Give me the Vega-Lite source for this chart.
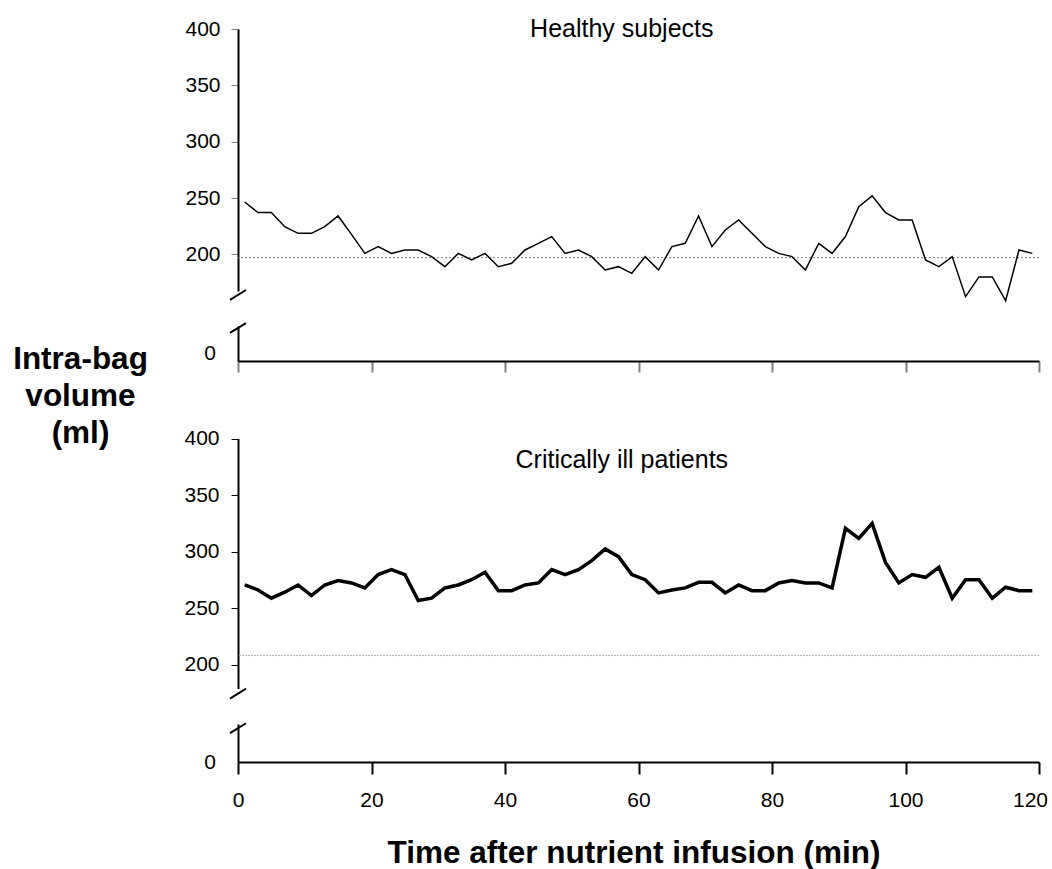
{
  "$schema": "https://vega.github.io/schema/vega-lite/v6.json",
  "padding": {"left": 12, "top": 16, "right": 5, "bottom": 0},
  "background": "white",
  "config": {
    "view": {"stroke": null},
    "font": "Liberation Sans",
    "axis": {"grid": false, "labelFont": "Liberation Sans", "labelColor": "black", "labelFontSize": 21}
  },
  "datasets": {
    "healthy": [
      {"t": 1, "v": 246.5}, {"t": 3, "v": 237.1}, {"t": 5, "v": 237.1}, {"t": 7, "v": 224.6}, {"t": 9, "v": 218.7},
      {"t": 11, "v": 218.7}, {"t": 13, "v": 224.6}, {"t": 15, "v": 234.1}, {"t": 17, "v": 217.8}, {"t": 19, "v": 200.9},
      {"t": 21, "v": 206.9}, {"t": 23, "v": 200.9}, {"t": 25, "v": 203.9}, {"t": 27, "v": 203.9}, {"t": 29, "v": 198.0},
      {"t": 31, "v": 189.1}, {"t": 33, "v": 200.9}, {"t": 35, "v": 195.0}, {"t": 37, "v": 200.9}, {"t": 39, "v": 189.1},
      {"t": 41, "v": 192.1}, {"t": 43, "v": 203.9}, {"t": 45, "v": 209.8}, {"t": 47, "v": 215.8}, {"t": 49, "v": 200.9},
      {"t": 51, "v": 203.9}, {"t": 53, "v": 198.0}, {"t": 55, "v": 186.1}, {"t": 57, "v": 189.1}, {"t": 59, "v": 183.2},
      {"t": 61, "v": 198.0}, {"t": 63, "v": 186.1}, {"t": 65, "v": 206.9}, {"t": 67, "v": 209.8}, {"t": 69, "v": 234.1},
      {"t": 71, "v": 206.9}, {"t": 73, "v": 221.7}, {"t": 75, "v": 230.6}, {"t": 77, "v": 218.7}, {"t": 79, "v": 206.9},
      {"t": 81, "v": 200.9}, {"t": 83, "v": 198.0}, {"t": 85, "v": 186.1}, {"t": 87, "v": 209.8}, {"t": 89, "v": 200.9},
      {"t": 91, "v": 215.8}, {"t": 93, "v": 242.4}, {"t": 95, "v": 251.9}, {"t": 97, "v": 237.1}, {"t": 99, "v": 230.6},
      {"t": 101, "v": 230.6}, {"t": 103, "v": 195.0}, {"t": 105, "v": 189.1}, {"t": 107, "v": 198.0}, {"t": 109, "v": 162.5},
      {"t": 111, "v": 180.0}, {"t": 113, "v": 180.0}, {"t": 115, "v": 158.9}, {"t": 117, "v": 203.9}, {"t": 119, "v": 200.9}
    ],
    "ill": [
      {"t": 1, "v": 270.6}, {"t": 3, "v": 266.2}, {"t": 5, "v": 258.9}, {"t": 7, "v": 264.2}, {"t": 9, "v": 270.6},
      {"t": 11, "v": 261.2}, {"t": 13, "v": 270.6}, {"t": 15, "v": 274.5}, {"t": 17, "v": 272.4}, {"t": 19, "v": 268.0},
      {"t": 21, "v": 279.8}, {"t": 23, "v": 284.2}, {"t": 25, "v": 279.8}, {"t": 27, "v": 256.8}, {"t": 29, "v": 258.9},
      {"t": 31, "v": 268.0}, {"t": 33, "v": 270.6}, {"t": 35, "v": 275.3}, {"t": 37, "v": 281.8}, {"t": 39, "v": 265.6},
      {"t": 41, "v": 265.6}, {"t": 43, "v": 270.6}, {"t": 45, "v": 272.4}, {"t": 47, "v": 284.2}, {"t": 49, "v": 279.8},
      {"t": 51, "v": 284.2}, {"t": 53, "v": 292.1}, {"t": 55, "v": 302.4}, {"t": 57, "v": 295.6}, {"t": 59, "v": 279.8},
      {"t": 61, "v": 275.3}, {"t": 63, "v": 263.6}, {"t": 65, "v": 266.2}, {"t": 67, "v": 268.0}, {"t": 69, "v": 273.0},
      {"t": 71, "v": 273.0}, {"t": 73, "v": 263.6}, {"t": 75, "v": 270.6}, {"t": 77, "v": 265.6}, {"t": 79, "v": 265.6},
      {"t": 81, "v": 272.4}, {"t": 83, "v": 274.5}, {"t": 85, "v": 272.4}, {"t": 87, "v": 272.4}, {"t": 89, "v": 268.0},
      {"t": 91, "v": 320.7}, {"t": 93, "v": 311.8}, {"t": 95, "v": 325.1}, {"t": 97, "v": 290.6}, {"t": 99, "v": 272.4},
      {"t": 101, "v": 279.8}, {"t": 103, "v": 277.4}, {"t": 105, "v": 286.2}, {"t": 107, "v": 258.9}, {"t": 109, "v": 275.3},
      {"t": 111, "v": 275.3}, {"t": 113, "v": 258.9}, {"t": 115, "v": 268.6}, {"t": 117, "v": 265.6}, {"t": 119, "v": 265.6}
    ]
  },
  "bounds": "flush",
  "spacing": 35,
  "vconcat": [
    {
      "width": 801,
      "height": 262,
      "layer": [
        {
          "data": {"values": [{}]},
          "mark": {"type": "rule", "stroke": "#808080", "strokeWidth": 1, "strokeDash": [2, 2]},
          "encoding": {"y": {"datum": 197.1, "type": "quantitative"}}
        },
        {
          "data": {"name": "healthy"},
          "mark": {"type": "line", "stroke": "black", "strokeWidth": 1.5, "strokeJoin": "miter"},
          "encoding": {
            "x": {"field": "t", "type": "quantitative", "scale": {"domain": [0, 120], "nice": false, "zero": false}, "axis": null},
            "y": {
              "field": "v", "type": "quantitative",
              "scale": {"domain": [167.5, 400], "nice": false, "zero": false},
              "axis": {"values": [200, 250, 300, 350, 400], "title": null, "domainColor": "black", "domainWidth": 2, "tickColor": "#808080", "tickSize": 7, "tickWidth": 1, "labelPadding": 11}
            }
          }
        },
        {
          "data": {"values": [{}]},
          "mark": {"type": "text", "font": "Liberation Sans", "fontSize": 25, "align": "center", "baseline": "alphabetic", "color": "black"},
          "encoding": {"x": {"datum": 57.5, "type": "quantitative"}, "y": {"datum": 393.3, "type": "quantitative"}, "text": {"value": "Healthy subjects"}}
        },
        {
          "data": {"values": [{}]},
          "mark": {"type": "point", "shape": "M-1,0.62L1,-0.62", "size": 256, "filled": false, "color": "black", "strokeWidth": 2, "opacity": 1},
          "encoding": {"x": {"datum": 0, "type": "quantitative"}, "y": {"datum": 164, "type": "quantitative"}}
        }
      ]
    },
    {
      "width": 801,
      "height": 35,
      "data": {"values": [{}]},
      "mark": {"type": "point", "shape": "M-1,0.62L1,-0.62", "size": 256, "filled": false, "color": "black", "strokeWidth": 2, "opacity": 1},
      "encoding": {
        "x": {
          "datum": 0, "type": "quantitative",
          "scale": {"domain": [0, 120], "nice": false},
          "axis": {"values": [0, 20, 40, 60, 80, 100, 120], "labels": false, "ticks": true, "tickColor": "#808080", "tickSize": 11, "tickWidth": 2, "domainColor": "black", "domainWidth": 2, "title": null}
        },
        "y": {
          "datum": 33, "type": "quantitative",
          "scale": {"domain": [0, 35], "nice": false, "zero": false},
          "axis": {
            "values": [0], "ticks": false, "labelPadding": 22.5, "labelOffset": -8, "domainColor": "black", "domainWidth": 2,
            "title": ["Intra-bag", "volume", "(ml)"],
            "titleFont": "Liberation Sans", "titleFontSize": 31.5, "titleFontWeight": "bold", "titleColor": "black",
            "titleAngle": 0, "titleAlign": "center", "titleBaseline": "alphabetic", "titleX": -158, "titleY": 42, "titleLineHeight": 37
          }
        }
      }
    },
    {
      "width": 801,
      "height": 292.6,
      "layer": [
        {
          "data": {"values": [{}]},
          "mark": {"type": "rule", "stroke": "#b0b0b0", "strokeWidth": 1, "strokeDash": [2, 1]},
          "encoding": {"y": {"datum": 208.2, "type": "quantitative"}}
        },
        {
          "data": {"name": "ill"},
          "mark": {"type": "line", "stroke": "black", "strokeWidth": 3.5, "strokeJoin": "miter"},
          "encoding": {
            "x": {"field": "t", "type": "quantitative", "scale": {"domain": [0, 120], "nice": false, "zero": false}, "axis": null},
            "y": {
              "field": "v", "type": "quantitative",
              "scale": {"domain": [179, 400], "range": [292.6, 42.6], "nice": false, "zero": false},
              "axis": {"values": [200, 250, 300, 350, 400], "title": null, "domainColor": "black", "domainWidth": 2, "tickColor": "black", "tickSize": 7, "tickWidth": 1, "labelPadding": 12}
            }
          }
        },
        {
          "data": {"values": [{}]},
          "mark": {"type": "text", "font": "Liberation Sans", "fontSize": 25, "align": "center", "baseline": "alphabetic", "color": "black"},
          "encoding": {"x": {"datum": 57.5, "type": "quantitative"}, "y": {"datum": 374.4, "type": "quantitative"}, "text": {"value": "Critically ill patients"}}
        },
        {
          "data": {"values": [{}]},
          "mark": {"type": "point", "shape": "M-1,0.62L1,-0.62", "size": 256, "filled": false, "color": "black", "strokeWidth": 2, "opacity": 1},
          "encoding": {"x": {"datum": 0, "type": "quantitative"}, "y": {"datum": 174.6, "type": "quantitative"}}
        }
      ]
    },
    {
      "width": 801,
      "height": 38,
      "data": {"values": [{}]},
      "mark": {"type": "point", "shape": "M-1,0.62L1,-0.62", "size": 256, "filled": false, "color": "black", "strokeWidth": 2, "opacity": 1},
      "encoding": {
        "x": {
          "datum": 0, "type": "quantitative",
          "scale": {"domain": [0, 120], "nice": false},
          "axis": {
            "values": [0, 20, 40, 60, 80, 100, 120], "labels": true, "labelFlush": false,
            "labelOffset": {"condition": {"test": "datum.value == 120", "value": -9}, "value": 0},
            "ticks": true, "tickColor": "black", "tickSize": 12, "tickWidth": 2, "labelPadding": 15,
            "domainColor": "black", "domainWidth": 2,
            "title": "Time after nutrient infusion (min)",
            "titleFont": "Liberation Sans", "titleFontSize": 31.5, "titleFontWeight": "bold", "titleColor": "black",
            "titleAlign": "center", "titleBaseline": "alphabetic", "titleX": 395.5, "titleY": 100
          }
        },
        "y": {
          "datum": 33.8, "type": "quantitative",
          "scale": {"domain": [0, 38], "nice": false, "zero": false},
          "axis": {"values": [0], "ticks": false, "labelPadding": 22.5, "domainColor": "black", "domainWidth": 2, "title": null}
        }
      }
    }
  ]
}
